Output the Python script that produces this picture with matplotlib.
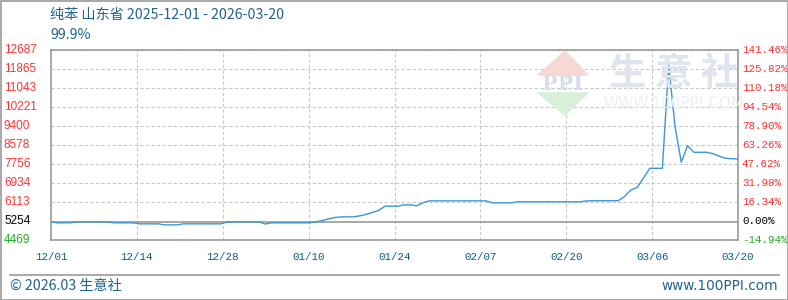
import matplotlib.pyplot as plt
import matplotlib.patches as mpatches
import numpy as np
import pandas as pd

plt.rcParams['font.family'] = ['Noto Sans CJK SC', 'DejaVu Sans']

# price series (yuan/ton) at change points
dates = ['2025-12-01', '2025-12-02', '2025-12-04', '2025-12-05', '2025-12-10',
         '2025-12-11', '2025-12-14', '2025-12-15', '2025-12-18', '2025-12-19',
         '2025-12-21', '2025-12-22', '2025-12-28', '2025-12-29', '2026-01-03',
         '2026-01-04', '2026-01-05', '2026-01-11', '2026-01-12', '2026-01-13',
         '2026-01-14', '2026-01-15', '2026-01-16', '2026-01-17', '2026-01-18',
         '2026-01-19', '2026-01-20', '2026-01-21', '2026-01-22', '2026-01-23',
         '2026-01-25', '2026-01-26', '2026-01-27', '2026-01-28', '2026-01-29',
         '2026-01-30', '2026-02-08', '2026-02-09', '2026-02-12', '2026-02-13',
         '2026-02-23', '2026-02-24', '2026-03-01', '2026-03-02', '2026-03-03',
         '2026-03-04', '2026-03-05', '2026-03-06', '2026-03-08', '2026-03-09',
         '2026-03-10', '2026-03-11', '2026-03-12', '2026-03-13', '2026-03-15',
         '2026-03-16', '2026-03-17', '2026-03-18', '2026-03-20']
prices = [5254, 5211, 5211, 5254, 5254,
          5211, 5211, 5168, 5168, 5124,
          5124, 5168, 5168, 5254, 5254,
          5160, 5211, 5211, 5254, 5310,
          5380, 5440, 5470, 5470, 5470,
          5513, 5580, 5660, 5750, 5932,
          5932, 5989, 5989, 5946, 6076,
          6162, 6162, 6076, 6076, 6119,
          6119, 6162, 6170, 6350, 6632,
          6740, 7150, 7570, 7570, 12038,
          9400, 7830, 8548, 8263, 8263,
          8205, 8100, 8000, 7973]

base_price = 5254
left_labels = ['4469', '5254', '6113', '6934', '7756', '8578', '9400',
               '10221', '11043', '11865', '12687']
right_labels = ['-14.94%', '0.00%', '16.34%', '31.98%', '47.62%', '63.26%',
                '78.90%', '94.54%', '110.18%', '125.82%', '141.46%']
x_labels = ['12/01', '12/14', '12/28', '01/10', '01/24', '02/07', '02/20',
            '03/06', '03/20']

ymin, ymax = 4469, 12687
dt = pd.to_datetime(dates)
days = (dt - dt[0]).days.values
ndays = 109

fig = plt.figure(figsize=(7.88, 3.0), dpi=100)
ax = fig.add_axes([51 / 788, 60 / 300, 687 / 788, 190 / 300])

blue = '#0f5a8c'
red = '#ff3333'

# watermark
fig.patches.append(mpatches.Polygon([[538 / 788, 1 - 75 / 300], [588 / 788, 1 - 75 / 300],
                                     [565 / 788, 1 - 51 / 300]], closed=True,
                                    transform=fig.transFigure, color='#f8d8d4', zorder=0))
fig.patches.append(mpatches.Polygon([[538 / 788, 1 - 93 / 300], [588 / 788, 1 - 93 / 300],
                                     [565 / 788, 1 - 115 / 300]], closed=True,
                                    transform=fig.transFigure, color='#d8efd8', zorder=0))
ax.patch.set_alpha(0)
fig.text(563 / 788, 1 - 84 / 300, 'PPI', ha='center', va='center', fontsize=15,
         family='DejaVu Serif', fontweight='bold', color='#d6deec', zorder=0)
fig.text(674 / 788, 1 - 74 / 300, '生 意 社', ha='center', va='center', fontsize=27,
         color='#dfe4ee', fontweight='bold', zorder=0)
fig.text(674 / 788, 1 - 104 / 300, 'WWW.100PPI.COM', ha='center', va='center',
         fontsize=11, family='DejaVu Sans', color='#efefef', zorder=0)

# grid
ticks_y = np.linspace(ymin, ymax, 11)
ticks_x = np.linspace(0, ndays, 9)
for yv in ticks_y[2:]:
    ax.axhline(yv, color='#c8c8c8', lw=0.8, ls=(0, (3, 2)), zorder=1)
for xv in ticks_x[1:-1]:
    ax.axvline(xv, color='#c8c8c8', lw=0.8, ls=(0, (3, 2)), zorder=1)
ax.axhline(base_price, color='#999999', lw=1.2, zorder=2)

ax.plot(days, prices, color='#3a96d6', lw=1.0, zorder=3)

ax.set_xlim(0, ndays)
ax.set_ylim(ymin, ymax)
ax.set_xticks([])
ax.set_yticks([])
for s in ax.spines.values():
    s.set_color('#999999')
    s.set_linewidth(1.2)

# tick labels
for i, yv in enumerate(ticks_y):
    c = red if i > 1 else ('black' if i == 1 else '#22aa22')
    ax.text(-47 / 687 * ndays, yv, left_labels[i], ha='left', va='center', fontsize=8.5,
            family='Liberation Sans', color=c, clip_on=False)
    ax.text(ndays + 4 / 687 * ndays, yv, right_labels[i], ha='left', va='center',
            fontsize=7.8, family='Liberation Mono', color=c, clip_on=False)
for xv, lab in zip(ticks_x, x_labels):
    ax.text(xv, ymin - 17 * (ymax - ymin) / 190, lab, ha='center', va='center',
            fontsize=7.8, family='Liberation Mono', color=blue, clip_on=False)

# header / footer
fig.text(50 / 788, 1 - 15 / 300, '纯苯 山东省 2025-12-01 - 2026-03-20', ha='left', va='center',
         fontsize=10.2, color='#1f6290')
fig.text(50 / 788, 1 - 35 / 300, '99.9%', ha='left', va='center', fontsize=10.2,
         color='#1f6290')
fig.add_artist(plt.Line2D([10 / 788, 779 / 788], [1 - 275 / 300, 1 - 275 / 300],
                          color='#999999', lw=1.2, transform=fig.transFigure))
fig.text(10 / 788, 1 - 286 / 300, '© 2026.03 生意社', ha='left', va='center', fontsize=10.2,
         color='#1f6290')
fig.text(778 / 788, 1 - 286 / 300, 'www.100PPI.com', ha='right', va='center', fontsize=9.8,
         family='DejaVu Sans', color='#1f6290')
fig.add_artist(mpatches.Rectangle((0.5 / 788, 0.5 / 300), 787 / 788, 299 / 300, fill=False,
                                  edgecolor='#999999', lw=1.2, transform=fig.transFigure))

plt.savefig('out.png', dpi=100)
